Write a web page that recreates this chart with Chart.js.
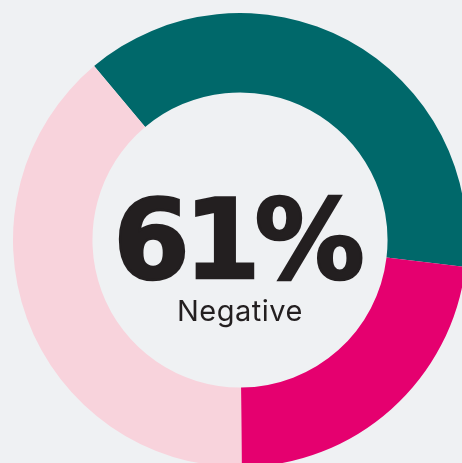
<!DOCTYPE html>
<html>
<head>
<meta charset="utf-8">
<script src="https://cdn.jsdelivr.net/npm/chart.js@4/dist/chart.umd.min.js"></script>
<style>
  html, body { margin:0; padding:0; background:#eff1f3; width:462px; height:463px; overflow:hidden; }
  #wrap { position:absolute; left:0; top:0; width:480px; height:480px; }
  .big { position:absolute; left:-4px; width:480px; text-align:center; top:185px;
         font-family:"DejaVu Sans"; font-weight:bold; font-size:110px; line-height:110px;
         color:#231f20; letter-spacing:-6px; -webkit-text-stroke:2.5px #231f20; }
  .sub { position:absolute; left:0; width:480px; text-align:center; top:296px;
         font-family:"Inter"; font-size:29px; line-height:29px; color:#231f20; letter-spacing:0.5px; }
</style>
</head>
<body>
<div id="wrap"><canvas id="c" width="480" height="480"></canvas></div>
<div class="big" id="big"></div>
<div class="sub" id="sub"></div>
<script>
const categories = ["Negative (strong)", "Negative", "Other"];
const values = [38, 23, 39];
const colors = ["#00686a", "#e5006f", "#f8d3dc"];
const centerValue = "61%";
const centerLabel = "Negative";

document.getElementById('big').textContent = centerValue;
document.getElementById('sub').textContent = centerLabel;

new Chart(document.getElementById('c'), {
  type: 'doughnut',
  data: {
    labels: categories,
    datasets: [{ data: values, backgroundColor: colors, borderWidth: 0 }]
  },
  options: {
    responsive: false,
    animation: false,
    rotation: -40,
    cutout: '65%',
    layout: { padding: 13 },
    plugins: { legend: { display: false }, tooltip: { enabled: false } }
  }
});
</script>
</body>
</html>
